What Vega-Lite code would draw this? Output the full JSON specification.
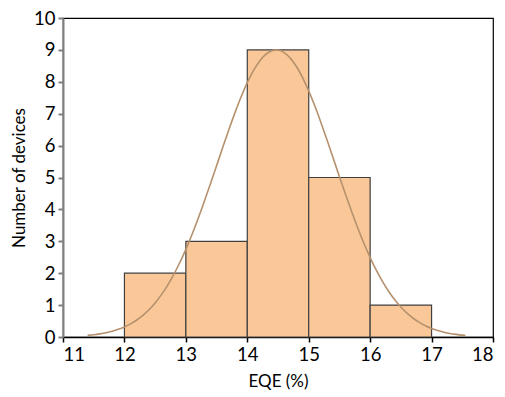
{
  "$schema": "https://vega.github.io/schema/vega-lite/v6.json",
  "width": 430,
  "height": 319,
  "autosize": {"type": "none"},
  "padding": {"left": 63, "top": 18, "right": 12, "bottom": 60},
  "background": "white",
  "config": {
    "view": {"stroke": "#000000", "strokeWidth": 1.2},
    "font": "Lato",
    "axis": {
      "labelFont": "Lato", "titleFont": "Lato",
      "labelFontSize": 18.5, "titleFontSize": 17,
      "labelColor": "#000", "titleColor": "#000",
      "titleFontWeight": "normal",
      "grid": false, "tickSize": 5, "labelOverlap": false, "format": "d"
    }
  },
  "datasets": {
    "bins": [
      {"start": 12, "end": 13, "count": 2},
      {"start": 13, "end": 14, "count": 3},
      {"start": 14, "end": 15, "count": 9},
      {"start": 15, "end": 16, "count": 5},
      {"start": 16, "end": 17, "count": 1}
    ],
    "fit": [
      {"x": 11.4, "y": 0.051}, {"x": 11.5, "y": 0.071}, {"x": 11.6, "y": 0.098}, {"x": 11.7, "y": 0.133},
      {"x": 11.8, "y": 0.18}, {"x": 11.9, "y": 0.24}, {"x": 12.0, "y": 0.316}, {"x": 12.1, "y": 0.412},
      {"x": 12.2, "y": 0.532}, {"x": 12.3, "y": 0.679}, {"x": 12.4, "y": 0.856}, {"x": 12.5, "y": 1.069},
      {"x": 12.6, "y": 1.32}, {"x": 12.7, "y": 1.612}, {"x": 12.8, "y": 1.948}, {"x": 12.9, "y": 2.327},
      {"x": 13.0, "y": 2.749}, {"x": 13.1, "y": 3.213}, {"x": 13.2, "y": 3.713}, {"x": 13.3, "y": 4.246},
      {"x": 13.4, "y": 4.801}, {"x": 13.5, "y": 5.369}, {"x": 13.6, "y": 5.94}, {"x": 13.7, "y": 6.5},
      {"x": 13.8, "y": 7.033}, {"x": 13.9, "y": 7.53}, {"x": 14.0, "y": 7.974}, {"x": 14.1, "y": 8.348},
      {"x": 14.2, "y": 8.647}, {"x": 14.3, "y": 8.859}, {"x": 14.4, "y": 8.976}, {"x": 14.47, "y": 9.0},
      {"x": 14.5, "y": 8.996}, {"x": 14.6, "y": 8.917}, {"x": 14.7, "y": 8.742}, {"x": 14.8, "y": 8.478},
      {"x": 14.9, "y": 8.132}, {"x": 15.0, "y": 7.714}, {"x": 15.1, "y": 7.239}, {"x": 15.2, "y": 6.718},
      {"x": 15.3, "y": 6.167}, {"x": 15.4, "y": 5.599}, {"x": 15.5, "y": 5.027}, {"x": 15.6, "y": 4.466},
      {"x": 15.7, "y": 3.923}, {"x": 15.8, "y": 3.408}, {"x": 15.9, "y": 2.93}, {"x": 16.0, "y": 2.49},
      {"x": 16.1, "y": 2.094}, {"x": 16.2, "y": 1.741}, {"x": 16.3, "y": 1.432}, {"x": 16.4, "y": 1.165},
      {"x": 16.5, "y": 0.938}, {"x": 16.6, "y": 0.746}, {"x": 16.7, "y": 0.588}, {"x": 16.8, "y": 0.457},
      {"x": 16.9, "y": 0.352}, {"x": 17.0, "y": 0.268}, {"x": 17.1, "y": 0.202}, {"x": 17.2, "y": 0.151},
      {"x": 17.3, "y": 0.111}, {"x": 17.4, "y": 0.081}, {"x": 17.5, "y": 0.058}, {"x": 17.55, "y": 0.049}
    ]
  },
  "layer": [
    {
      "data": {"name": "bins"},
      "mark": {"type": "bar", "fill": "#FAC898", "stroke": "#404040", "strokeWidth": 1.2},
      "encoding": {
        "x": {
          "field": "start", "type": "quantitative",
          "scale": {"domain": [11, 18], "nice": false},
          "axis": {"title": "EQE (%)", "values": [11, 12, 13, 14, 15, 16, 17, 18], "domainColor": "#000", "tickColor": "#000", "domainWidth": 1.5, "tickWidth": 1.5, "labelPadding": 3, "titlePadding": 10}
        },
        "x2": {"field": "end"},
        "y": {
          "field": "count", "type": "quantitative",
          "scale": {"domain": [0, 10], "nice": false},
          "axis": {"title": "Number of devices", "values": [0, 1, 2, 3, 4, 5, 6, 7, 8, 9, 10], "tickCount": 11, "domainColor": "#808080", "tickColor": "#808080", "domainWidth": 2, "tickWidth": 2, "labelPadding": 3, "titlePadding": 5}
        },
        "y2": {"datum": 0}
      }
    },
    {
      "data": {"name": "fit"},
      "mark": {"type": "line", "color": "#B5916D", "strokeWidth": 1.6, "interpolate": "monotone"},
      "encoding": {
        "x": {"field": "x", "type": "quantitative"},
        "y": {"field": "y", "type": "quantitative"}
      }
    }
  ]
}
